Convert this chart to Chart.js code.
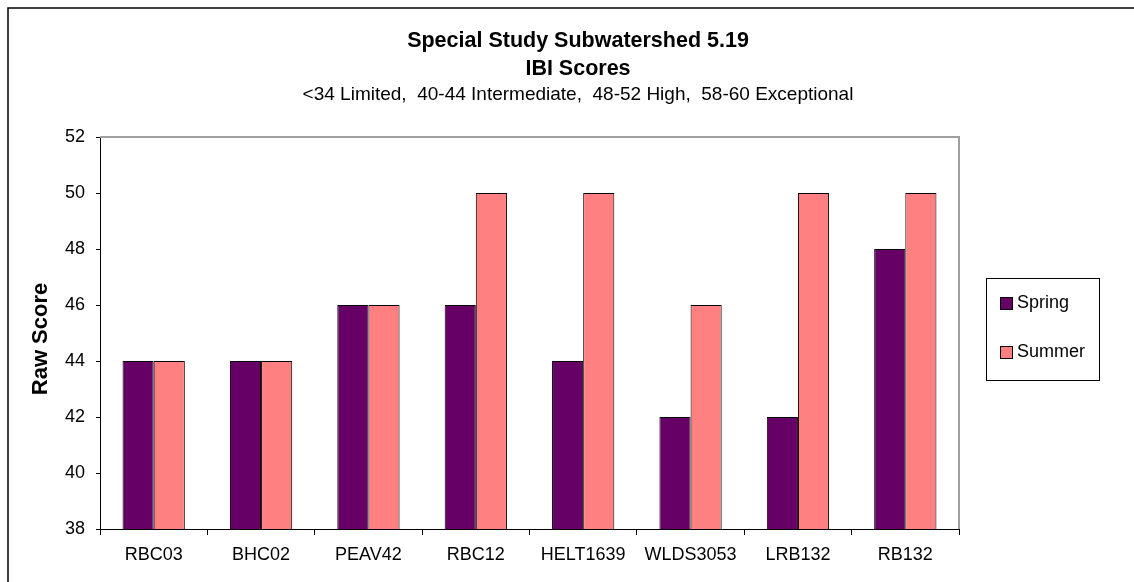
<!DOCTYPE html>
<html>
<head>
<meta charset="utf-8">
<title>Special Study Subwatershed 5.19 - IBI Scores</title>
<script src="https://cdn.jsdelivr.net/npm/chart.js@4.4.1/dist/chart.umd.min.js"></script>
<style>
  html, body { margin: 0; padding: 0; background: #ffffff; }
  #wrap { width: 1134px; height: 582px; position: relative; }
</style>
</head>
<body>
<div id="wrap"><canvas id="chart" width="1134" height="582"></canvas></div>
<script>
// Sampling sites along the subwatershed
const sites = ['RBC03', 'BHC02', 'PEAV42', 'RBC12', 'HELT1639', 'WLDS3053', 'LRB132', 'RB132'];

// IBI raw scores per season
const springScores = [44, 44, 46, 46, 44, 42, 42, 48];
const summerScores = [44, 44, 46, 50, 50, 46, 50, 50];

// Axis range and tick values
const yTicks = [38, 40, 42, 44, 46, 48, 50, 52];

const titleLines = ['Special Study Subwatershed 5.19', 'IBI Scores'];
const subtitleText = '<34 Limited,  40-44 Intermediate,  48-52 High,  58-60 Exceptional';
const yAxisTitle = 'Raw Score';

const FONT = '"Liberation Sans", Arial, Helvetica, sans-serif';
const SPRING_COLOR = '#660066';
const SUMMER_COLOR = '#FF8080';

// Frame, titles, plot-area outline and a boxed legend on the right
const decorations = {
  id: 'decorations',
  beforeDatasetsDraw(chart) {
    const { ctx, chartArea: a } = chart;
    ctx.save();
    ctx.strokeStyle = '#a0a0a0';
    ctx.lineWidth = 2;
    ctx.beginPath();
    ctx.moveTo(a.left, a.top);
    ctx.lineTo(a.right, a.top);
    ctx.lineTo(a.right, a.bottom);
    ctx.stroke();
    ctx.restore();
  },
  afterDraw(chart) {
    const { ctx } = chart;
    ctx.save();

    // outer frame
    ctx.strokeStyle = '#000000';
    ctx.lineWidth = 1.5;
    ctx.beginPath();
    ctx.moveTo(8, 600);
    ctx.lineTo(8, 8);
    ctx.lineTo(1140, 8);
    ctx.stroke();

    // titles
    ctx.fillStyle = '#000000';
    ctx.textAlign = 'center';
    ctx.textBaseline = 'middle';
    ctx.font = 'bold 21.5px ' + FONT;
    ctx.fillText(titleLines[0], 578, 41);
    ctx.fillText(titleLines[1], 578, 69);
    ctx.font = '19px ' + FONT;
    ctx.fillText(subtitleText, 578, 95);

    // y axis title
    ctx.save();
    ctx.translate(41, 339);
    ctx.rotate(-Math.PI / 2);
    ctx.font = 'bold 22px ' + FONT;
    ctx.fillText(yAxisTitle, 0, 0);
    ctx.restore();

    // legend box
    const lx = 986, ly = 278, lw = 113, lh = 102;
    ctx.fillStyle = '#ffffff';
    ctx.fillRect(lx, ly, lw, lh);
    ctx.strokeStyle = '#000000';
    ctx.lineWidth = 1;
    ctx.strokeRect(lx + 0.5, ly + 0.5, lw, lh);
    const rows = [ly + 25, ly + 74];
    chart.data.datasets.forEach((ds, i) => {
      const cy = rows[i];
      ctx.fillStyle = ds.backgroundColor;
      ctx.fillRect(1000, cy - 6, 12, 12);
      ctx.strokeStyle = '#000000';
      ctx.strokeRect(1000.5, cy - 5.5, 12, 12);
      ctx.fillStyle = '#000000';
      ctx.textAlign = 'left';
      ctx.textBaseline = 'middle';
      ctx.font = '18px ' + FONT;
      ctx.fillText(ds.label, 1017, cy);
    });
    ctx.restore();
  }
};

new Chart(document.getElementById('chart'), {
  type: 'bar',
  data: {
    labels: sites,
    datasets: [
      {
        label: 'Spring',
        data: springScores,
        backgroundColor: SPRING_COLOR,
        borderColor: '#000000',
        borderWidth: 1,
        borderSkipped: false,
        categoryPercentage: 0.58,
        barPercentage: 1.0
      },
      {
        label: 'Summer',
        data: summerScores,
        backgroundColor: SUMMER_COLOR,
        borderColor: '#000000',
        borderWidth: 1,
        borderSkipped: false,
        categoryPercentage: 0.58,
        barPercentage: 1.0
      }
    ]
  },
  options: {
    responsive: false,
    animation: false,
    devicePixelRatio: 1,
    layout: { padding: { left: 40, top: 137, right: 175, bottom: 3 } },
    plugins: {
      legend: { display: false },
      title: { display: false },
      tooltip: { enabled: false }
    },
    scales: {
      x: {
        grid: {
          display: true,
          drawOnChartArea: false,
          drawTicks: true,
          tickLength: 6,
          color: '#000000',
          offset: true
        },
        border: { display: true, color: '#000000', width: 1 },
        ticks: {
          color: '#000000',
          padding: 9,
          font: { family: FONT, size: 18 },
          maxRotation: 0,
          autoSkip: false
        },
        afterFit(scale) { scale.height = 50; }
      },
      y: {
        min: yTicks[0],
        max: yTicks[yTicks.length - 1],
        afterBuildTicks(scale) { scale.ticks = yTicks.map(v => ({ value: v })); },
        grid: {
          display: true,
          drawOnChartArea: false,
          drawTicks: true,
          tickLength: 4,
          color: '#000000'
        },
        border: { display: true, color: '#000000', width: 1 },
        ticks: {
          color: '#000000',
          padding: 11,
          font: { family: FONT, size: 18 }
        },
        afterFit(scale) { scale.width = 60; }
      }
    }
  },
  plugins: [decorations]
});
</script>
</body>
</html>
